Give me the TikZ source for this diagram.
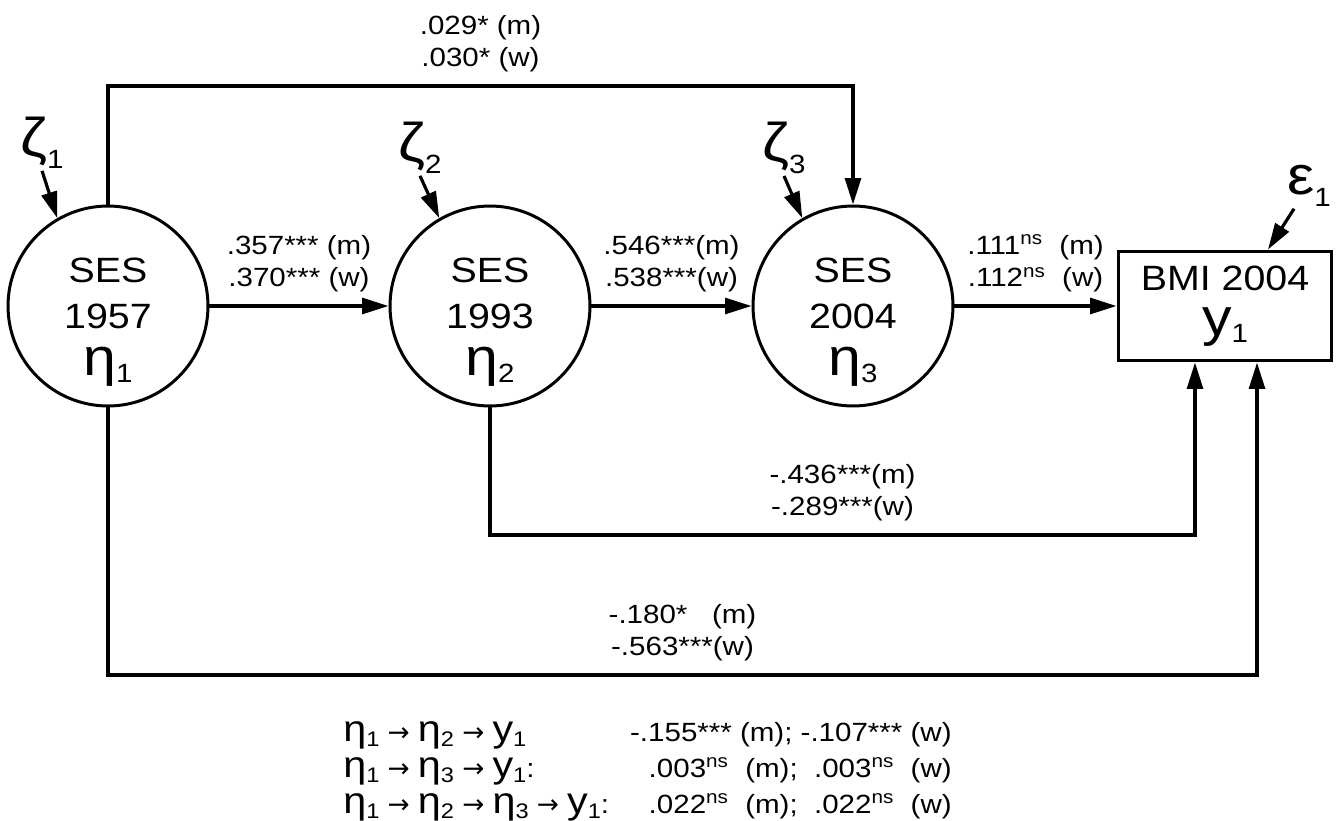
\documentclass[tikz,border=0pt]{standalone}
\usepackage{fontspec}
\setmainfont{Liberation Sans}[FakeStretch=1.12]
\newfontfamily\arrowfont{DejaVu Sans}
\usetikzlibrary{arrows.meta,calc,positioning}

\newcommand{\gk}[2][30]{{\fontsize{#1}{#1}\selectfont #2}}
\newcommand{\lidx}[2][15]{\raisebox{-0.22em}{\fontsize{#1}{#1}\selectfont #2}}
\newcommand{\ra}{{\arrowfont →}}

\begin{document}
\begin{tikzpicture}[x=0.02cm, y=-0.02cm,
  latent/.style={circle, draw, line width=1.7pt, minimum size=4cm, inner sep=0pt},
  ltext/.style={align=center, font=\fontsize{20}{26.5}\selectfont, yshift=-9pt},
  observed/.style={rectangle, draw, line width=1.7pt, minimum width=4.28cm, minimum height=2.2cm, align=center, font=\fontsize{20}{25.5}\selectfont, inner sep=0pt},
  arrow/.style={-{Triangle[length=15pt, width=9pt]}, line width=1.8pt},
  coef/.style={align=center, font=\fontsize{15}{18.5}\selectfont, inner sep=0pt, above=7pt},
  err/.style={font=\fontsize{31}{31}\selectfont, inner sep=1pt},
  ptext/.style={font=\fontsize{15}{15}\selectfont, inner sep=0pt},
]
\useasboundingbox (0,0) rectangle (1340,821);

% === LATENT SES AND OBSERVED BMI ===
\node[latent, label={[ltext]center:SES\\1957\\\gk{η}\lidx{1}}] (ses57) at (108,306) {};
\node[latent, label={[ltext]center:SES\\1993\\\gk{η}\lidx{2}}] (ses93) at (490,306) {};
\node[latent, label={[ltext]center:SES\\2004\\\gk{η}\lidx{3}}] (ses04) at (853,306) {};
\node[observed] (bmi) at (1225,306) {BMI 2004\\\gk{y}\lidx{1}};

% disturbances
\node[err] (z1) at (42,143) {ζ\lidx{1}};
\node[err] (z2) at (420,148) {ζ\lidx{2}};
\node[err] (z3) at (784,148) {ζ\lidx{3}};
\node[err] (eps1) at (1309,186) {ε\lidx{1}};

\draw[arrow] (z1.south) -- (ses57.120);
\draw[arrow] (z2.south) -- (ses93.120);
\draw[arrow] (z3.south) -- (ses04.120);
\coordinate (bin0) at ($(bmi.north)+(43,0)$);
\draw[arrow] ($(eps1.south)+(-15,0)$) -- (bin0);

% === PATHS ===
\draw[arrow] (ses57) -- node[coef] (c12) {.357*** (m)\\.370*** (w)} (ses93);
\draw[arrow] (ses93) -- node[coef] (c23) {.546***(m)\\.538***(w)} (ses04);
\draw[arrow] (ses04) -- node[coef] (c3y) {.111\textsuperscript{ns}\ \ (m)\\.112\textsuperscript{ns}\ \ (w)} (bmi);

\coordinate (top) at (0,86);
\coordinate (mid) at (0,535);
\coordinate (low) at (0,675);
\coordinate (bin2) at ($(bmi.south)+(-30,0)$);
\coordinate (bin1) at ($(bmi.south)+(32,0)$);

\draw[arrow] (ses57.north) -- (ses57.north |- top)
  -- node[coef] (c13) {.029* (m)\\.030* (w)} (ses04.north |- top) -- (ses04.north);
\draw[arrow] (ses93.south) -- (ses93.south |- mid)
  -- node[coef] (c2y) {-.436***(m)\\-.289***(w)} (bin2 |- mid) -- (bin2);
\draw[arrow] (ses57.south) -- (ses57.south |- low)
  -- node[coef] (c1y) {-.180*\ \ \ (m)\\-.563***(w)} (bin1 |- low) -- (bin1);

% === INDIRECT EFFECTS ===
\node[ptext, anchor=base west] (p1) at (343,741) {\gk[21]{η}\lidx[12]{1} \ra{} \gk[21]{η}\lidx[12]{2} \ra{} \gk[21]{y}\lidx[12]{1}};
\node[ptext, anchor=base west] (p2) at (343,777) {\gk[21]{η}\lidx[12]{1} \ra{} \gk[21]{η}\lidx[12]{3} \ra{} \gk[21]{y}\lidx[12]{1}:};
\node[ptext, anchor=base west] (p3) at (343,813) {\gk[21]{η}\lidx[12]{1} \ra{} \gk[21]{η}\lidx[12]{2} \ra{} \gk[21]{η}\lidx[12]{3} \ra{} \gk[21]{y}\lidx[12]{1}:};

\node[ptext, anchor=base east] (e1) at (952,741) {-.155*** (m); -.107*** (w)};
\node[ptext, anchor=base east] (e2) at (952,777) {.003\textsuperscript{ns}\ \ (m);\ \ .003\textsuperscript{ns}\ \ (w)};
\node[ptext, anchor=base east] (e3) at (952,813) {.022\textsuperscript{ns}\ \ (m);\ \ .022\textsuperscript{ns}\ \ (w)};
\end{tikzpicture}
\end{document}
